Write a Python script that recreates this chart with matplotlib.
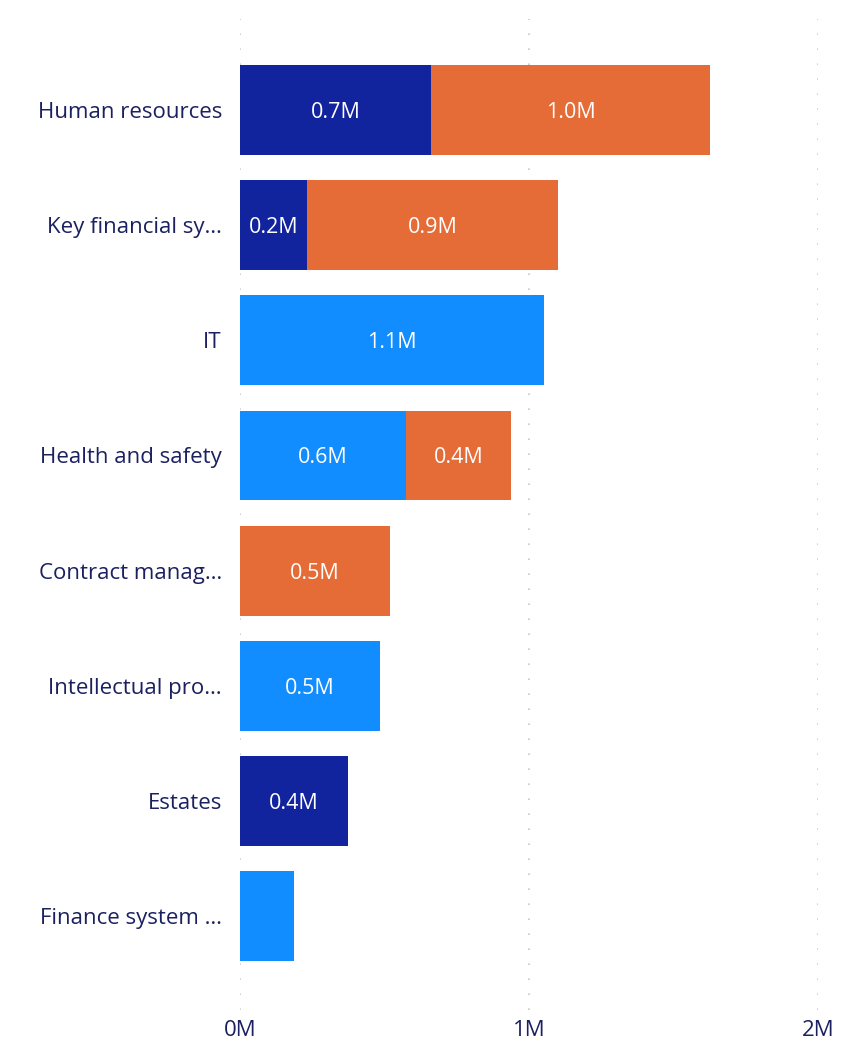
import matplotlib
matplotlib.use("Agg")
import matplotlib.pyplot as plt
import numpy as np

categories = ["Human resources", "Key financial sy…", "IT", "Health and safety",
              "Contract manag…", "Intellectual pro…", "Estates", "Finance system …"]
series_names = ["Series A", "Series B", "Series C"]
dark_vals = [0.661, 0.232, 0.0, 0.0, 0.0, 0.0, 0.374, 0.0]
light_vals = [0.0, 0.0, 1.052, 0.574, 0.0, 0.484, 0.0, 0.187]
orange_vals = [0.965, 0.869, 0.0, 0.363, 0.519, 0.0, 0.0, 0.0]
xticks = [0, 1, 2]
xtick_labels = ["0M", "1M", "2M"]

colors = ["#12239E", "#118DFF", "#E66C37"]
text_color = "#1B2160"

plt.rcParams['font.family'] = ['Open Sans', 'DejaVu Sans']

fig = plt.figure(figsize=(8.62, 10.45), dpi=100)
ax = fig.add_axes([240/862, 35/1045, 578/862, 991/1045])

y = np.arange(len(categories))
left = np.zeros(len(categories))
for vals, col in zip([dark_vals, light_vals, orange_vals], colors):
    vals = np.array(vals)
    ax.barh(y, vals, left=left, height=0.78, color=col, zorder=3)
    for yi, (l, v) in enumerate(zip(left, vals)):
        if v >= 0.2:
            ax.text(l + v / 2, yi, f"{v:.1f}M", ha="center", va="center_baseline",
                    color="white", fontsize=15.5, zorder=4)
    left = left + vals

ax.set_ylim(7.815, -0.79)
ax.set_xlim(0, 2)
ax.set_yticks(y)
ax.set_yticklabels(categories, fontsize=16, color=text_color)
ax.set_xticks(xticks)
ax.set_xticklabels(xtick_labels, fontsize=16, color=text_color)
ax.tick_params(axis="both", length=0)
ax.tick_params(axis="y", pad=13)
ax.tick_params(axis="x", pad=7)
ax.grid(axis="x", color="#C8C8C8", linestyle=(0, (1, 8)), linewidth=1.2, zorder=0)
for s in ax.spines.values():
    s.set_visible(False)

fig.savefig("out.png", dpi=100)
